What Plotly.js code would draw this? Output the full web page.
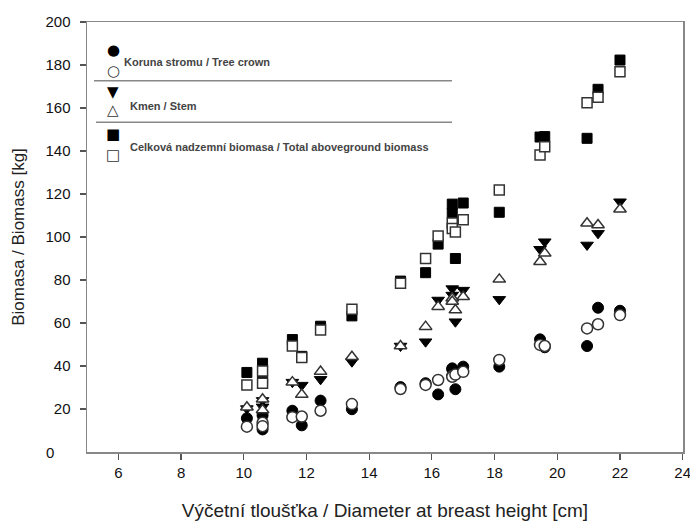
<!DOCTYPE html>
<html>
<head>
<meta charset="utf-8">
<script src="https://cdn.plot.ly/plotly-3.0.1.min.js"></script>
<style>html,body{margin:0;padding:0;background:#fff;}#chart{width:690px;height:521px;}</style>
</head>
<body>
<div id="chart"></div>
<script>
// Diameter at breast height [cm] for each tree
const dbh = [10.1, 10.6, 10.6, 11.55, 11.85, 12.45, 13.45, 15.0, 15.8, 16.2, 16.65, 16.65, 16.75, 17.0, 18.15, 19.45, 19.6, 20.95, 21.3, 22.0];
// Crown biomass [kg]: measured (filled) and model (open)
const crownMeasured = [15.7, 17.0, 10.5, 19.2, 12.4, 23.9, 19.9, 30.2, 32.0, 26.8, 38.9, 38.5, 29.2, 39.7, 39.7, 52.4, 48.7, 49.3, 67.1, 65.7];
const crownModel    = [11.8, 13.6, 12.0, 16.2, 16.5, 19.2, 22.3, 29.3, 31.2, 33.5, 35.3, 35.0, 36.0, 37.3, 42.8, 49.8, 49.3, 57.5, 59.4, 63.7];
// Stem biomass [kg]
const stemMeasured  = [20.2, 24.0, 21.0, 32.5, 31.1, 33.8, 42.0, 49.3, 51.3, 70.7, 76.0, 73.0, 60.6, 75.3, 71.0, 94.3, 97.8, 96.3, 101.7, 116.4];
const stemModel     = [20.8, 24.5, 19.5, 32.5, 26.7, 37.4, 44.3, 49.3, 58.3, 67.6, 71.5, 70.0, 66.0, 72.2, 80.3, 88.5, 92.4, 106.4, 105.6, 112.9];
// Total aboveground biomass [kg]
const totalMeasured = [37.0, 41.3, 33.5, 52.3, 44.5, 58.5, 63.3, 79.5, 83.4, 96.7, 115.3, 111.0, 90.0, 115.8, 111.5, 146.5, 146.7, 145.9, 168.7, 182.3];
const totalModel    = [31.2, 37.7, 32.0, 49.3, 44.0, 56.7, 66.4, 78.5, 90.0, 100.5, 106.5, 104.0, 102.3, 108.0, 121.9, 138.1, 142.0, 162.5, 165.0, 176.9];

const xTicks = [6, 8, 10, 12, 14, 16, 18, 20, 22, 24];
const yTicks = [20, 40, 60, 80, 100, 120, 140, 160, 180, 200];

const legendTexts = ["Koruna stromu / Tree crown", "Kmen / Stem", "Celková nadzemní biomasa / Total aboveground biomass"];

const filled = (y, sym, size) => ({
  type: 'scatter', mode: 'markers', x: dbh, y: y, showlegend: false, hoverinfo: 'skip', cliponaxis: false,
  marker: {symbol: sym, size: size, color: '#000', line: {color: '#000', width: 1}}
});
const open = (y, sym, size) => ({
  type: 'scatter', mode: 'markers', x: dbh, y: y, showlegend: false, hoverinfo: 'skip', cliponaxis: false,
  marker: {symbol: sym, size: size, color: '#fff', line: {color: '#333', width: 1.5}}
});

const traces = [
  filled(totalMeasured, 'square', 10),
  filled(stemMeasured, 'triangle-down', 11),
  filled(crownMeasured, 'circle', 11),
  open(totalModel, 'square', 10),
  open(stemModel, 'triangle-up', 11),
  open(crownModel, 'circle', 11)
];

const W = 596, H = 430, L = 87, T = 22;
const px = v => (v - L) / W;
const py = v => (T + H - v) / H;

const symFont = {family: 'DejaVu Sans', size: 15, color: '#000'};
const symFontOpen = {family: 'DejaVu Sans', size: 15, color: '#333'};
const txtFont = {family: 'Liberation Sans, Arial', size: 11, color: '#444', weight: 'bold'};

const sym = (t, x, y, f) => ({text: t, xref: 'paper', yref: 'paper', x: px(x), y: py(y), xanchor: 'center', yanchor: 'middle', showarrow: false, font: f});
const txt = (t, x, y) => ({text: t, xref: 'paper', yref: 'paper', x: px(x), y: py(y), xanchor: 'left', yanchor: 'middle', showarrow: false, font: txtFont});

const annotations = [
  sym('●', 113, 49.5, symFont),
  sym('○', 113, 70.5, symFontOpen),
  sym('▼', 113, 91.5, symFont),
  sym('△', 113, 110, symFontOpen),
  sym('■', 113, 133.5, symFont),
  sym('□', 113, 154.5, symFontOpen),
  txt(legendTexts[0], 122, 62.5),
  txt(legendTexts[1], 128, 106),
  txt(legendTexts[2], 128, 146.5),
  {text: '0', xref: 'paper', yref: 'y', x: 0, y: 0, xanchor: 'right', yanchor: 'middle', xshift: -31, showarrow: false,
   font: {family: 'Liberation Sans, Arial', size: 15, color: '#111'}}
];

const shapes = [
  {type: 'line', xref: 'paper', yref: 'paper', x0: px(94), x1: px(452), y0: py(80.7), y1: py(80.7), line: {color: '#888', width: 1.5}},
  {type: 'line', xref: 'paper', yref: 'paper', x0: px(96), x1: px(452), y0: py(122.3), y1: py(122.3), line: {color: '#888', width: 1.5}}
];

const layout = {
  width: 690, height: 521,
  margin: {l: 87, r: 7, t: 22, b: 69, pad: 0},
  paper_bgcolor: '#fff', plot_bgcolor: '#fff',
  showlegend: false,
  font: {family: 'Liberation Sans, Arial', color: '#111'},
  xaxis: {
    range: [5, 24.01], tickvals: xTicks, ticktext: xTicks.map(String),
    showgrid: false, zeroline: false,
    showline: true, linecolor: '#888', linewidth: 1.5, mirror: true,
    ticks: 'outside', ticklen: 6, tickwidth: 1.2, tickcolor: '#555',
    tickfont: {size: 15, color: '#111'},
    ticklabeloverflow: 'allow',
    title: {text: 'Výčetní tloušťka / Diameter at breast height [cm]', font: {size: 19, color: '#222'}, standoff: 24}
  },
  yaxis: {
    range: [0, 200], tickvals: yTicks, ticktext: yTicks.map(String),
    showgrid: false, zeroline: false,
    showline: true, linecolor: '#888', linewidth: 1.5, mirror: true,
    ticks: 'outside', ticklen: 6, tickwidth: 1.2, tickcolor: '#555',
    tickfont: {size: 15, color: '#111'},
    ticklabelstandoff: 6,
    title: {text: 'Biomasa / Biomass [kg]', font: {size: 17, color: '#222'}, standoff: 16}
  },
  annotations: annotations,
  shapes: shapes
};

Plotly.newPlot('chart', traces, layout, {displayModeBar: false, staticPlot: true});
</script>
</body>
</html>
